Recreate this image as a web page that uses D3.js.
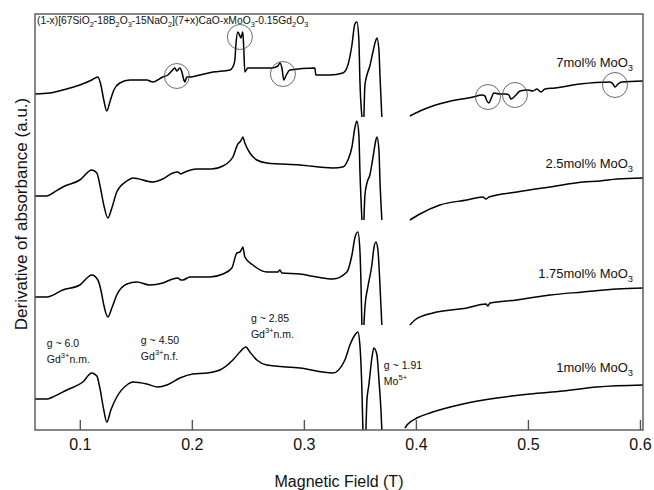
<!DOCTYPE html>
<html lang="en">
<head>
    <meta charset="UTF-8">
    <title>EPR spectra</title>
    <script src="https://cdn.jsdelivr.net/npm/d3@7/dist/d3.min.js"></script>
    <style>
        body{margin:0;background:#fff;}
        svg{display:block;}
    </style>
</head>
<body>
    <svg></svg>
    <script>
        //field ticks (T)
        var fieldTicks = [0.1, 0.2, 0.3, 0.4, 0.5, 0.6];

        //traces: [field (T), derivative (a.u., offset included)], null = break in the record
        var trace7 = [
            [0.0598,336],[0.0732,337],[0.0848,340],[0.1000,345],[0.1107,350],[0.1161,353],[0.1188,345],[0.1214,330],[0.1241,319],[0.1268,328],
            [0.1304,340],[0.1357,347],[0.1446,350],[0.1598,350],[0.1652,348],[0.1741,353],[0.1786,355],[0.1821,359],[0.1848,362],[0.1866,359],
            [0.1893,362],[0.1911,358],[0.1929,350],[0.1938,348],[0.1955,353],[0.1982,353],[0.2071,355],[0.2188,358],[0.2339,360],[0.2366,363],
            [0.2384,370],[0.2393,385],[0.2411,398],[0.2429,394],[0.2438,392],[0.2446,395],[0.2455,398],[0.2464,380],[0.2473,358],[0.2500,362],
            [0.2714,362],[0.2768,364],[0.2786,367],[0.2804,362],[0.2821,350],[0.2839,354],[0.2875,360],[0.3098,362],[0.3107,355],[0.3232,355],
            [0.3348,357],[0.3393,365],[0.3429,385],[0.3455,406],[0.3473,408],[0.3491,390],[0.3500,350],[0.3518,313],
            null,
            [0.3536,313],[0.3545,345],[0.3563,355],[0.3589,364],[0.3616,378],[0.3643,390],[0.3652,392],[0.3670,380],[0.3679,355],[0.3696,313],
            null,
            [0.3946,314],[0.4036,319],[0.4125,323],[0.4277,328],[0.4509,333],[0.4589,335],[0.4616,334],[0.4634,329],[0.4652,327],[0.4670,331],
            [0.4696,337],[0.4750,336],[0.4804,336],[0.4830,335],[0.4848,331],[0.4866,332],[0.4893,335],[0.4929,339],[0.5000,340],[0.5045,339],
            [0.5080,341],[0.5116,338],[0.5152,341],[0.5241,342],[0.5464,346],[0.5732,348],[0.5759,346],[0.5777,343],[0.5804,346],[0.5839,348],
            [0.6027,349]
        ];
        var trace25 = [
            [0.0598,234],[0.0705,234],[0.0760,237],[0.0848,243],[0.1000,250],[0.1107,260],[0.1152,257],[0.1179,245],[0.1214,225],[0.1250,212],[0.1286,222],
            [0.1330,238],[0.1420,249],[0.1473,252],[0.1652,248],[0.1741,251],[0.1830,257],[0.1875,258],[0.1902,256],[0.1920,257],[0.2045,261],
            [0.2179,261],[0.2277,264],[0.2366,273],[0.2411,286],[0.2429,288],[0.2446,291],[0.2455,293],[0.2473,287],[0.2518,277],[0.2580,270],
            [0.2670,267],[0.2964,265],[0.3259,262],[0.3348,263],[0.3393,270],[0.3429,283],[0.3455,302],[0.3473,309],[0.3491,295],[0.3500,260],
            [0.3518,210],
            null,
            [0.3536,210],[0.3545,235],[0.3563,247],[0.3589,255],[0.3616,272],[0.3643,290],[0.3652,293],[0.3670,280],[0.3679,250],[0.3696,210],
            null,
            [0.3946,210],[0.4036,216],[0.4214,225],[0.4455,230],[0.4598,233],[0.4625,231],[0.4652,233],[0.4902,238],[0.5196,243],[0.5491,248],
            [0.5643,249],[0.5795,251],[0.6027,252]
        ];
        var trace175 = [
            [0.0598,133],[0.0705,133],[0.0848,140],[0.1000,145],[0.1107,155],[0.1161,150],[0.1188,140],[0.1214,125],[0.1250,113],[0.1286,122],
            [0.1330,135],[0.1420,146],[0.1509,148],[0.1625,145],[0.1741,147],[0.1830,151],[0.1875,152],[0.1902,150],[0.1920,150],[0.1982,153],
            [0.2161,153],[0.2277,156],[0.2357,162],[0.2402,177],[0.2429,178],[0.2446,181],[0.2455,183],[0.2473,173],[0.2545,165],[0.2670,158],
            [0.2768,158],[0.2786,160],[0.2804,157],[0.2964,156],[0.3116,153],[0.3259,151],[0.3384,158],[0.3429,175],[0.3455,192],[0.3482,198],
            [0.3500,180],[0.3509,150],[0.3518,105],
            null,
            [0.3536,105],[0.3545,123],[0.3571,143],[0.3607,165],[0.3625,182],[0.3643,188],[0.3661,180],[0.3679,145],[0.3696,105],
            null,
            [0.3946,105],[0.3991,110],[0.4152,117],[0.4455,122],[0.4625,126],[0.4643,124],[0.4661,127],[0.4902,130],[0.5196,135],[0.5491,138],
            [0.5795,141],[0.6027,142]
        ];
        var trace1 = [
            [0.0598,31],[0.0705,31],[0.0759,33],[0.0884,40],[0.1027,48],[0.1107,57],[0.1152,54],[0.1179,42],[0.1214,20],[0.1241,8],
            [0.1277,20],[0.1330,33],[0.1420,45],[0.1473,48],[0.1598,46],[0.1696,43],[0.1777,45],[0.1893,52],[0.2009,56],[0.2134,57],
            [0.2250,60],[0.2366,70],[0.2429,78],[0.2482,83],[0.2518,78],[0.2580,70],[0.2670,65],[0.2964,62],[0.3259,57],[0.3366,70],
            [0.3411,85],[0.3455,95],[0.3482,98],[0.3500,85],[0.3518,40],[0.3527,0],
            null,
            [0.3554,0],[0.3563,30],[0.3580,45],[0.3607,72],[0.3625,82],[0.3652,75],[0.3670,50],[0.3688,20],[0.3696,0],
            null,
            [0.3902,2],[0.3929,6],[0.4009,12],[0.4125,17],[0.4420,26],[0.4723,32],[0.5018,36],[0.5313,39],[0.5616,43],[0.6027,45]
        ];

        //series names, same order as the traces
        var seriesNames = ["7mol% MoO_{3}", "2.5mol% MoO_{3}", "1.75mol% MoO_{3}", "1mol% MoO_{3}"];
        //circled features on the 7mol% trace [field, a.u.]
        var circled = [[0.1866,354],[0.2429,393],[0.2813,356],[0.4643,333],[0.4884,335],[0.5777,345]];
        //assignments
        var gValues = ["g ~ 6.0", "g ~ 4.50", "g ~ 2.85", "g ~ 1.91"];
        var gIons = ["Gd^{3+}n.m.", "Gd^{3+}n.f.", "Gd^{3+}n.m.", "Mo^{5+}"];
        var titleText = "(1-x)[67SiO_{2}-18B_{2}O_{3}-15NaO_{2}](7+x)CaO-xMoO_{3}-0.15Gd_{2}O_{3}";

        var width = 654, height = 490;
        var margin = {top:14, right:11, bottom:60, left:35};
        var font = "'Liberation Sans', Arial, sans-serif";

        var svg = d3.select("svg").attr("width", width).attr("height", height);

        var x = d3.scaleLinear().domain([0.06, 0.6027]).range([margin.left, width - margin.right]);
        var y = d3.scaleLinear().domain([0, 416]).range([height - margin.bottom, margin.top]);

        //writes text with _{sub} and ^{sup} parts as tspans
        function rich(sel, str, size){
            var parts = str.split(/(_\{[^}]*\}|\^\{[^}]*\})/);
            var shift = 0;
            parts.forEach(function(p){
                if(!p) return;
                var target = 0, fs = size, txt = p;
                if(p[0] === "_"){ target = size*0.3; fs = size*0.72; txt = p.slice(2, -1); }
                else if(p[0] === "^"){ target = -size*0.45; fs = size*0.72; txt = p.slice(2, -1); }
                sel.append("tspan").attr("dy", target - shift).attr("font-size", fs).text(txt);
                shift = target;
            });
        }

        svg.append("defs").append("clipPath").attr("id", "plot")
            .append("rect")
            .attr("x", margin.left).attr("y", margin.top)
            .attr("width", width - margin.left - margin.right)
            .attr("height", height - margin.top - margin.bottom);

        //traces
        var line = d3.line()
            .defined(function(d){ return d !== null; })
            .x(function(d){ return x(d[0]); })
            .y(function(d){ return y(d[1]); })
            .curve(d3.curveMonotoneX);

        svg.append("g").attr("clip-path", "url(#plot)")
            .selectAll("path")
            .data([trace7, trace25, trace175, trace1])
            .enter()
            .append("path")
            .attr("d", line)
            .attr("fill", "none")
            .attr("stroke", "#000")
            .attr("stroke-width", 1.5)
            .attr("stroke-linejoin", "round");

        //circles round the features
        svg.append("g")
            .selectAll("circle")
            .data(circled)
            .enter()
            .append("circle")
            .attr("cx", function(d){ return x(d[0]); })
            .attr("cy", function(d){ return y(d[1]); })
            .attr("r", 12.5)
            .attr("fill", "none")
            .attr("stroke", "#444")
            .attr("stroke-width", 0.8);

        //frame
        svg.append("rect")
            .attr("x", margin.left).attr("y", margin.top)
            .attr("width", width - margin.left - margin.right)
            .attr("height", height - margin.top - margin.bottom)
            .attr("fill", "none")
            .attr("stroke", "#555")
            .attr("stroke-width", 1.4);

        //bottom axis, ticks pointing in
        var xAxis = svg.append("g")
            .attr("transform", "translate(0," + (height - margin.bottom) + ")")
            .call(d3.axisBottom(x).tickValues(fieldTicks).tickSize(-10).tickPadding(9).tickFormat(d3.format(".1f")));
        xAxis.select(".domain").remove();
        xAxis.selectAll("line").attr("stroke", "#555").attr("stroke-width", 1.4);
        xAxis.selectAll("text").attr("font-family", font).attr("font-size", 16).attr("fill", "#111");

        //axis titles
        svg.append("text")
            .attr("x", (margin.left + width - margin.right)/2)
            .attr("y", 487)
            .attr("text-anchor", "middle")
            .attr("font-family", font).attr("font-size", 16).attr("fill", "#111")
            .text("Magnetic Field (T)");
        svg.append("text")
            .attr("transform", "translate(27,214) rotate(-90)")
            .attr("text-anchor", "middle")
            .attr("font-family", font).attr("font-size", 17).attr("fill", "#111")
            .text("Derivative of absorbance (a.u.)");

        //composition title
        rich(svg.append("text").attr("x", 37).attr("y", 24)
            .attr("font-family", font).attr("fill", "#111"), titleText, 10.3);

        //series labels at the right
        var labelY = [363, 262, 152, 58];
        seriesNames.forEach(function(s, i){
            rich(svg.append("text")
                .attr("x", x(0.5938)).attr("y", y(labelY[i]))
                .attr("text-anchor", "end")
                .attr("font-family", font).attr("fill", "#111"), s, 13);
        });

        //g-value notes
        var notePos = [[0.0705,347],[0.1545,344],[0.2527,322],[0.3714,369]];
        gValues.forEach(function(g, i){
            var t = svg.append("g").attr("font-family", font).attr("fill", "#111");
            t.append("text").attr("x", x(notePos[i][0])).attr("y", notePos[i][1])
                .attr("font-size", 10.5).text(g);
            rich(t.append("text").attr("x", x(notePos[i][0])).attr("y", notePos[i][1] + 16), gIons[i], 10.5);
        });
    </script>
</body>
</html>
